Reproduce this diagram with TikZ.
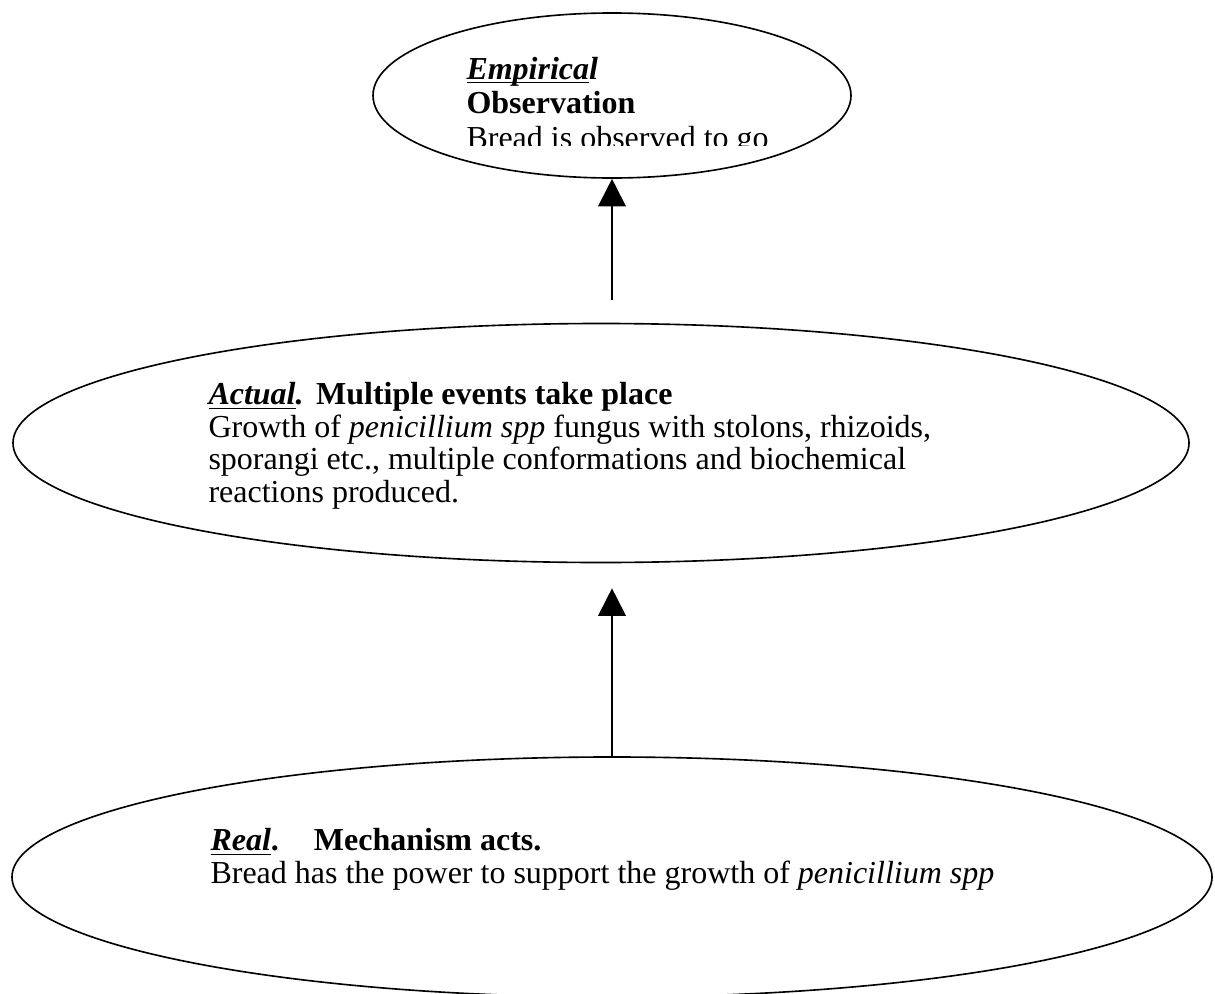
\documentclass[tikz,border=0pt]{standalone}
\usepackage{fontspec}
\setmainfont{Liberation Serif}
\usetikzlibrary{shapes.geometric,arrows.meta}

% underline just under the baseline, through descenders
\newcommand{\lvlul}[1]{\underline{\smash{#1}}}

\begin{document}
\begin{tikzpicture}[
                    x=0.4pt,
                    y=-0.4pt,
                    level/.style={draw, ellipse, inner sep=0pt, line width=0.65pt},
                    txt/.style={anchor=base west, align=left, inner sep=0pt,
                                font=\fontsize{12.8}{13}\selectfont},
                    up/.style={-{Triangle[width=11pt,length=11pt]}, line width=0.8pt}
                ]
                \useasboundingbox (0,0) rectangle (1215,994);

                \node (emp) [level, minimum width=191.2pt, minimum height=66pt] at (612,95.5) {};
                \node (act) [level, minimum width=470.4pt, minimum height=95.6pt] at (601,443) {};
                \node (real) [level, minimum width=480pt, minimum height=96pt] at (612,877) {};

                % text box of the top level is cut off
                \begin{scope}
                    \clip (440,30) rectangle (800,145.5);
                    \node (emptxt) [txt, font=\fontsize{12.8}{13.8}\selectfont] at (466,148)
                        {\textbf{\textit{\lvlul{Empirica}l}}\\
                         \textbf{Observation}\\
                         Bread is observed to go};
                \end{scope}

                \node (acttxt) [txt] at (208,502)
                    {\textbf{\textit{\lvlul{Actual}.}}\hspace{5pt}\textbf{Multiple events take place}\\
                     Growth of \textit{penicillium spp} fungus with stolons, rhizoids,\\
                     sporangi etc., multiple conformations and biochemical\\
                     reactions produced.};

                \node (realtxt) [txt] at (210,883)
                    {\textbf{\textit{\lvlul{Real}}.}\hspace{14pt}\textbf{Mechanism acts.}\\
                     Bread has the power to support the growth of \textit{penicillium spp}};

                \draw[up, shorten <=9.2pt] (act.north -| emp.south) -- (emp.south);
                \draw[up, shorten >=10pt] (real.north) -- (act.south -| real.north);
            \end{tikzpicture}
\end{document}
